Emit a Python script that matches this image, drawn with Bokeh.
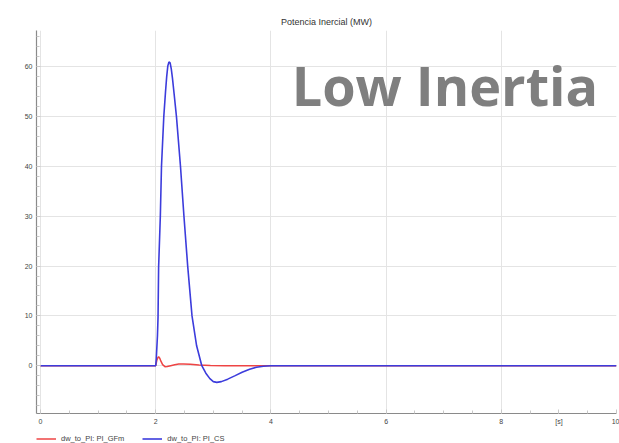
from bokeh.plotting import figure
from bokeh.layouts import column
from bokeh.models import (FixedTicker, SingleIntervalTicker, Legend, LegendItem, Label, Range1d)
from bokeh.embed import file_html
from bokeh.resources import INLINE

# ---- data ----
t_cs = [0.0, 2.00, 2.01, 2.03, 2.04, 2.05, 2.08, 2.10, 2.14, 2.17, 2.19, 2.21, 2.23, 2.25,
        2.27, 2.29, 2.32, 2.36, 2.43, 2.49, 2.555, 2.63, 2.71, 2.80, 2.87, 2.94, 3.00,
        3.06, 3.14, 3.25, 3.38, 3.50, 3.63, 3.75, 3.87, 4.00, 10.0]
v_cs = [0.0, 0.0, 1.5, 6.0, 9.7, 19.7, 30.0, 40.0, 50.0, 55.0, 58.0, 60.2, 61.0, 60.8,
        59.6, 57.8, 54.5, 50.0, 40.0, 30.0, 20.0, 10.0, 4.0, 0.0, -1.5, -2.6, -3.2,
        -3.35, -3.2, -2.7, -2.0, -1.3, -0.7, -0.3, -0.1, 0.0, 0.0]

t_gfm = [0.0, 2.00, 2.02, 2.04, 2.05, 2.07, 2.09, 2.12, 2.16, 2.20, 2.26, 2.33, 2.40,
         2.48, 2.60, 2.75, 2.95, 3.20, 3.60, 10.0]
v_gfm = [0.0, 0.0, 1.1, 1.7, 1.8, 1.5, 0.9, 0.2, -0.2, -0.18, 0.0, 0.2, 0.32,
         0.35, 0.3, 0.15, 0.05, 0.0, 0.0, 0.0]

x_major = [0, 2, 4, 6, 8, 9, 10]
x_labels = {9: "[s]"}
x_grid = [0, 2, 4, 6, 8, 10]
series_names = ["dw_to_PI: PI_GFm", "dw_to_PI: PI_CS"]
series_colors = ["#ee4444", "#3c3cdc"]
title_text = "Potencia Inercial (MW)"
overlay_text = "Low Inertia"

FONT = "Liberation Sans"

p = figure(width=619, height=428, output_backend="svg", toolbar_location=None,
           x_range=Range1d(-0.07, 10.0), y_range=Range1d(-9.6, 67.3),
           min_border_left=36, min_border_right=3, min_border_top=30, min_border_bottom=15,
           title=title_text)
p.outline_line_color = None
p.background_fill_color = "white"
p.border_fill_color = "white"

p.title.align = "center"
p.title.vertical_align = "middle"
p.title.text_font = FONT
p.title.text_font_size = "9px"
p.title.text_font_style = "normal"
p.title.text_color = "#333333"
p.title.standoff = 5

r_gfm = p.line(t_gfm, v_gfm, line_color=series_colors[0], line_width=1.5)
r_cs = p.line(t_cs, v_cs, line_color=series_colors[1], line_width=1.6)

# axes
xa = p.xaxis[0]
xa.ticker = FixedTicker(ticks=x_major, minor_ticks=[i * 0.5 for i in range(0, 21)])
xa.major_label_overrides = x_labels
ya = p.yaxis[0]
ya.ticker = SingleIntervalTicker(interval=10, num_minor_ticks=5)
for a in (xa, ya):
    a.axis_line_color = "#8a8a8a"
    a.axis_line_width = 1.2
    a.major_tick_in = 4
    a.major_tick_out = 0
    a.minor_tick_in = 3
    a.minor_tick_out = 0
    a.major_tick_line_color = "#c8c8c8"
    a.minor_tick_line_color = "#c8c8c8"
    a.major_label_text_font = FONT
    a.major_label_text_font_size = "7px"
    a.major_label_text_color = "#444444"
    a.major_label_standoff = 4

p.xgrid.ticker = FixedTicker(ticks=x_grid)
p.xgrid.grid_line_color = "#e4e4e4"
p.ygrid.grid_line_color = "#e4e4e4"

# overlay text
p.add_layout(Label(x=4.36, y=56.3, text=overlay_text, text_font="Open Sans",
                   text_font_style="bold", text_font_size="54px", text_color="#7f7f7f",
                   text_baseline="alphabetic", text_align="left"))

# legend strip below the chart
pl = figure(width=619, height=15, output_backend="svg", toolbar_location=None,
            x_range=Range1d(0, 1), y_range=Range1d(0, 1),
            x_axis_location=None, y_axis_location=None,
            min_border_left=0, min_border_right=0, min_border_top=0, min_border_bottom=0)
pl.grid.visible = False
pl.outline_line_color = None
l1 = pl.line([-5, -4], [-5, -4], line_color=series_colors[0], line_width=1.5)
l2 = pl.line([-5, -4], [-5, -4], line_color=series_colors[1], line_width=1.6)
legend = Legend(items=[LegendItem(label=series_names[0], renderers=[l1]),
                       LegendItem(label=series_names[1], renderers=[l2])],
                orientation="horizontal", location=(0, 0))
legend.border_line_color = None
legend.background_fill_alpha = 0
legend.label_text_font = FONT
legend.label_text_font_size = "7.5px"
legend.label_text_color = "#444444"
legend.glyph_width = 20
legend.glyph_height = 9
legend.label_height = 9
legend.label_standoff = 5
legend.spacing = 18
legend.padding = 3
legend.margin = 0
pl.add_layout(legend, "center")

layout = column(p, pl, spacing=0)
open("out.html", "w").write(file_html(layout, INLINE))
